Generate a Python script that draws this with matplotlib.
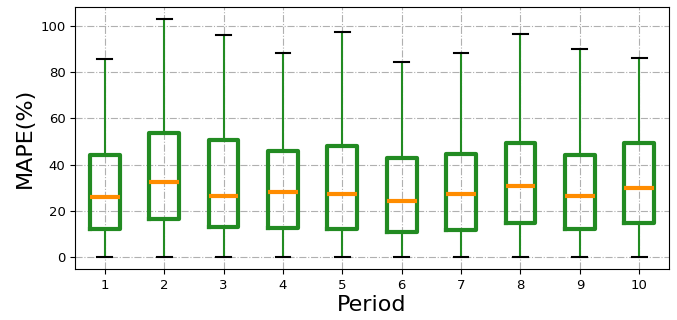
import matplotlib.pyplot as plt

# values (MAPE %, per period)
periods = [1, 2, 3, 4, 5, 6, 7, 8, 9, 10]
whislo = [0.0, 0.0, 0.0, 0.2, 0.0, 0.2, 0.0, 0.2, 0.0, 0.0]
q1 = [12.1, 16.4, 13.0, 12.8, 12.4, 11.0, 11.8, 15.0, 12.1, 14.8]
med = [26.2, 32.6, 26.5, 28.0, 27.5, 24.5, 27.5, 30.9, 26.4, 30.1]
q3 = [44.1, 53.7, 50.6, 45.9, 47.9, 43.0, 44.6, 49.5, 44.3, 49.4]
whishi = [85.7, 103.0, 95.9, 88.4, 97.2, 84.2, 88.1, 96.4, 90.2, 86.3]

stats = []
for i in range(len(periods)):
	stats.append({'label': str(periods[i]), 'whislo': whislo[i], 'q1': q1[i],
		'med': med[i], 'q3': q3[i], 'whishi': whishi[i], 'fliers': []})

fig, ax = plt.subplots(figsize=(6.77, 3.2), dpi=100)
ax.bxp(stats, positions=periods, showfliers=False,
	boxprops=dict(color='forestgreen', linewidth=3),
	medianprops=dict(color='darkorange', linewidth=3),
	whiskerprops=dict(color='forestgreen', linewidth=1.5),
	capprops=dict(color='black', linewidth=1.5))
ax.grid(True, linestyle='-.', color='#b0b0b0', linewidth=0.8)
ax.set_axisbelow(True)
ax.set_xlabel('Period', fontsize=16, labelpad=2)
ax.set_ylabel('MAPE(%)', fontsize=16)
ax.tick_params(labelsize=9.5)
plt.subplots_adjust(left=0.111, right=0.988, bottom=0.159, top=0.978)
plt.savefig('out.png')
